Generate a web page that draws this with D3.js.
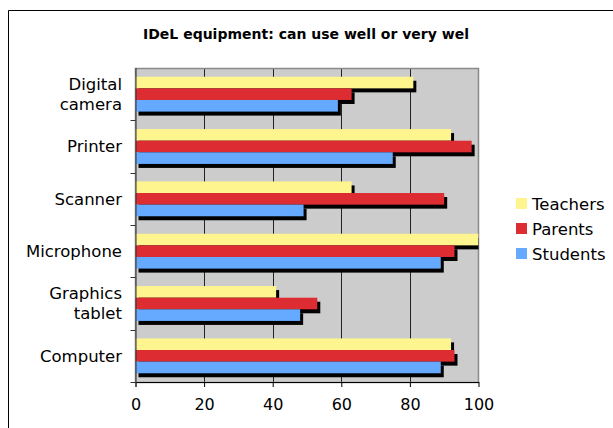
<!DOCTYPE html>
<html><head><meta charset="utf-8">
<script src="https://cdn.jsdelivr.net/npm/d3@7"></script>
<style>body{margin:0;background:#fff}svg{display:block}text{font-family:"DejaVu Sans",Verdana,sans-serif;fill:#000}</style>
</head><body>
<svg id="c" width="613" height="428"></svg>
<script>
const categories = ["Digital camera","Printer","Scanner","Microphone","Graphics tablet","Computer"];
const seriesNames = ["Teachers","Parents","Students"];
const teachers = [81, 92, 63, 100, 41, 92];
const parents  = [63, 98, 90, 93, 53, 93];
const students = [59, 75, 49, 89, 48, 89];
const xTicks = [0, 20, 40, 60, 80, 100];
const colors = ["#FFF58F", "#DE2C33", "#66AAFF"];
const title = "IDeL equipment: can use well or very wel";

const series = [teachers, parents, students];
const svg = d3.select("#c");
svg.append("path").attr("d","M8.5,440 V10.5 H620").attr("fill","none").attr("stroke","#000").attr("stroke-width",1);

const L = 135.5, R = 478.5, T = 68, B = 382;
const x = d3.scaleLinear().domain([0,100]).range([L,R]);
const y = d3.scaleBand().domain(categories).range([T,B]).paddingInner(0.334).paddingOuter(0.167);
const ys = d3.scaleBand().domain(seriesNames).range([0,y.bandwidth()]);

svg.append("text").attr("x",306).attr("y",39).attr("text-anchor","middle")
  .style("font-weight","bold").style("font-size","14px").text(title);

svg.append("rect").attr("x",L).attr("y",T).attr("width",R-L).attr("height",B-T).attr("fill","#CCCCCC");
svg.append("g").selectAll("line").data(xTicks.slice(1,-1)).join("line")
  .attr("x1",d=>Math.round(x(d))+0.5).attr("x2",d=>Math.round(x(d))+0.5).attr("y1",T).attr("y2",B)
  .attr("stroke","#222").attr("stroke-width",1);
svg.append("rect").attr("x",L).attr("y",T+0.5).attr("width",R-L).attr("height",B-T).attr("fill","none").attr("stroke","#8a8a8a").attr("stroke-width",1.5);

svg.append("clipPath").attr("id","clip").append("rect").attr("x",L).attr("y",T).attr("width",R-L).attr("height",B-T);
const plot = svg.append("g").attr("clip-path","url(#clip)");
const data = [];
categories.forEach((c,i)=>seriesNames.forEach((s,j)=>data.push({c,s,v:series[j][i],col:colors[j]})));
plot.append("g").selectAll("rect").data(data).join("rect")
  .attr("x",x(0)+3).attr("y",d=>y(d.c)+ys(d.s)+4).attr("width",d=>x(d.v)-x(0)).attr("height",ys.bandwidth()).attr("fill","#000");
plot.append("g").selectAll("rect").data(data).join("rect")
  .attr("x",x(0)).attr("y",d=>y(d.c)+ys(d.s)).attr("width",d=>x(d.v)-x(0)).attr("height",ys.bandwidth()).attr("fill",d=>d.col);

const xa = svg.append("g").attr("transform",`translate(0,${B})`)
  .call(d3.axisBottom(x).tickValues(xTicks).tickSize(5).tickSizeOuter(0));
xa.select(".domain").attr("stroke","#000");
xa.selectAll("text").style("font-size","16px").attr("dy","0.71em").attr("y",17).style("font-family","'DejaVu Sans',Verdana,sans-serif");
const yg = svg.append("g");
yg.append("line").attr("x1",L+0.5).attr("x2",L+0.5).attr("y1",T).attr("y2",B+5).attr("stroke","#333");
const bounds = d3.range(categories.length+1).map(i=>T + i*(B-T)/categories.length);
yg.selectAll("line.t").data(bounds.slice(1)).join("line").attr("class","t")
  .attr("x1",L-5).attr("x2",L).attr("y1",d=>Math.round(d)+0.5).attr("y2",d=>Math.round(d)+0.5).attr("stroke","#333");
categories.forEach(c=>{
  const words = c.split(" ");
  const cy = y(c)+y.bandwidth()/2;
  const t = yg.append("text").attr("text-anchor","end").style("font-size","16.5px");
  if(words.length===1){
    t.append("tspan").attr("x",122).attr("y",cy).attr("dy","0.35em").text(c);
  } else {
    words.forEach((w,k)=>t.append("tspan").attr("x",122).attr("y",cy+(k-0.5)*20).attr("dy","0.35em").text(w));
  }
});
const lg = svg.append("g");
seriesNames.forEach((s,j)=>{
  lg.append("rect").attr("x",516).attr("y",198+j*25).attr("width",11).attr("height",11).attr("fill",colors[j]);
  lg.append("text").attr("x",532).attr("y",204+j*25).attr("dy","0.35em").style("font-size","16.5px").text(s);
});
</script>
</body></html>
